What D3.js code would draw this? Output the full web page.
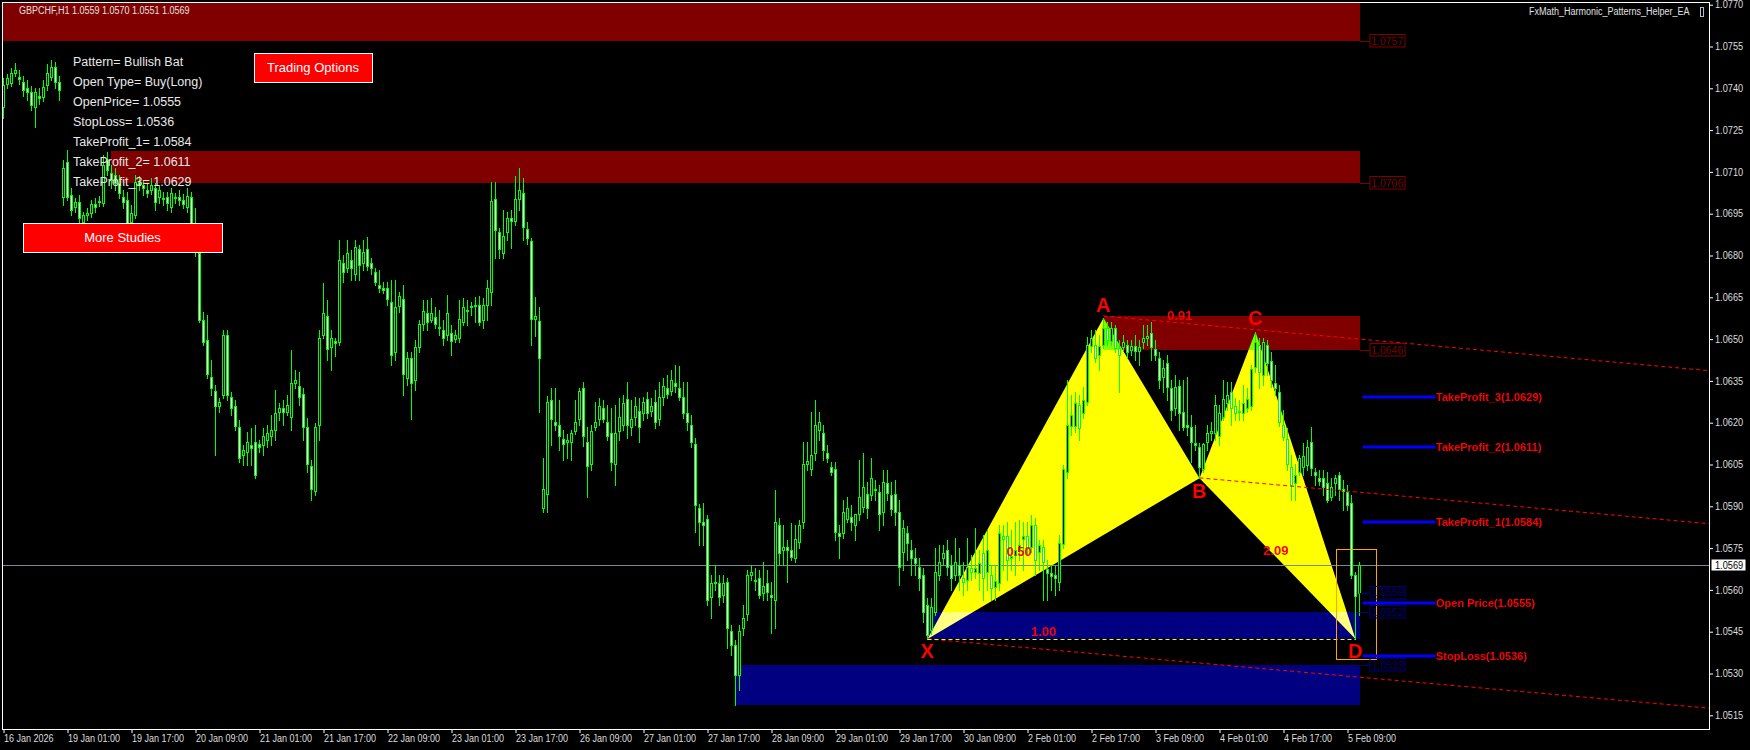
<!DOCTYPE html>
<html><head><meta charset="utf-8">
<script src="https://cdn.jsdelivr.net/npm/d3@7/dist/d3.min.js"></script>
<style>
html,body{margin:0;padding:0;background:#000;overflow:hidden}
svg{display:block}
text{font-family:"Liberation Sans",Arial,sans-serif}
</style></head><body>
<svg id="chart" width="1750" height="750"></svg>
<script>
// ---------------- DATA ----------------
const symbol = "GBPCHF,H1";
const openP = [
1.07333,1.07416,1.07419,1.07455,1.07441,1.07423,1.07401,1.07387,1.07333,1.07372,1.07369,1.07412,1.07441,1.07477,1.07423,
1.07010,1.07136,1.07017,1.06974,1.06992,1.06920,1.06945,1.06952,1.06985,1.06992,1.06988,1.07143,1.07096,1.07089,1.07060,
1.07010,1.06999,1.06920,1.06945,1.07064,1.07053,1.07035,1.07035,1.07042,1.07010,1.07006,1.07010,1.06974,1.07010,1.07010,
1.06999,1.06974,1.07010,1.06916,1.06809,1.06569,1.06497,1.06364,1.06313,1.06260,1.06299,1.06515,1.06292,1.06260,1.06185,
1.06084,1.06095,1.06120,1.06131,1.06124,1.06120,1.06138,1.06152,1.06174,1.06239,1.06253,1.06239,1.06221,1.06342,1.06331,
1.06303,1.06185,1.06044,1.05954,1.06192,1.06515,1.06582,1.06472,1.06493,1.06490,1.06773,1.06755,1.06784,1.06734,1.06824,
1.06773,1.06824,1.06773,1.06741,1.06694,1.06683,1.06683,1.06633,1.06454,1.06618,1.06644,1.06360,1.06432,1.06353,1.06472,
1.06555,1.06593,1.06569,1.06579,1.06544,1.06533,1.06515,1.06522,1.06501,1.06504,1.06562,1.06604,1.06615,1.06618,1.06622,
1.06569,1.06622,1.06669,1.07003,1.06885,1.06809,1.06885,1.06934,1.06923,1.07003,1.07024,1.06895,1.06852,1.06572,1.06565,
1.05894,1.05944,1.06282,1.06203,1.06192,1.06142,1.06131,1.06131,1.06170,1.06214,1.06324,1.06131,1.06052,1.06185,1.06214,
1.06253,1.06203,1.06163,1.06052,1.06170,1.06192,1.06285,1.06185,1.06221,1.06242,1.06235,1.06285,1.06242,1.06275,1.06214,
1.06292,1.06324,1.06313,1.06342,1.06324,1.06292,1.06235,1.06192,1.06124,1.05894,1.05844,1.05855,1.05575,1.05625,1.05625,
1.05582,1.05629,1.05452,1.05402,1.05294,1.05463,1.05514,1.05653,1.05632,1.05642,1.05589,1.05625,1.05582,1.05564,1.05833,
1.05743,1.05754,1.05743,1.05714,1.05772,1.05844,1.06052,1.06034,1.06091,1.06174,1.06163,1.06091,1.06041,1.06034,1.05804,
1.05804,1.05855,1.05862,1.05833,1.05873,1.05898,1.05944,1.05940,1.05962,1.05951,1.05880,1.05983,1.05940,1.05944,1.05880,
1.05736,1.05804,1.05743,1.05714,1.05682,1.05653,1.05546,1.05456,1.05521,1.05653,1.05714,1.05743,1.05689,1.05653,1.05689,
1.05642,1.05636,1.05678,1.05664,1.05660,1.05732,1.05664,1.05653,1.05611,1.05625,1.05793,1.05793,1.05714,1.05725,1.05743,
1.05783,1.05793,1.05754,1.05833,1.05736,1.05754,1.05675,1.05660,1.05653,1.05629,1.05765,1.06023,1.06188,1.06188,1.06264,
1.06235,1.06275,1.06475,1.06479,1.06443,1.06479,1.06540,1.06493,1.06540,1.06468,1.06472,1.06479,1.06461,1.06475,1.06457,
1.06490,1.06504,1.06522,1.06465,1.06432,1.06364,1.06414,1.06324,1.06253,1.06331,1.06239,1.06192,1.06185,1.06127,1.06113,
1.06034,1.06131,1.06163,1.06163,1.06152,1.06221,1.06271,1.06310,1.06260,1.06239,1.06235,1.06253,1.06260,1.06400,1.06479,
1.06371,1.06479,1.06421,1.06342,1.06310,1.06192,1.06142,1.06041,1.05983,1.06023,1.06041,1.06048,1.06131,1.06023,1.06001,
1.06001,1.05983,1.05933,1.05983,1.06012,1.05962,1.05951,1.05912,1.05653,1.0559];
const highP = [
1.07437,1.07452,1.07473,1.07491,1.07466,1.07444,1.07430,1.07408,1.07401,1.07401,1.07430,1.07488,1.07502,1.07495,1.07444,
1.07143,1.07179,1.07042,1.07006,1.07017,1.06956,1.06970,1.06999,1.07006,1.07013,1.07161,1.07172,1.07125,1.07114,1.07089,
1.07035,1.07028,1.06981,1.07089,1.07085,1.07071,1.07060,1.07078,1.07060,1.07049,1.07028,1.07028,1.07042,1.07024,1.07035,
1.07021,1.07042,1.07028,1.06970,1.06827,1.06597,1.06586,1.06425,1.06335,1.06288,1.06533,1.06533,1.06310,1.06282,1.06210,
1.06120,1.06167,1.06181,1.06192,1.06138,1.06181,1.06192,1.06228,1.06317,1.06271,1.06282,1.06299,1.06461,1.06389,1.06382,
1.06324,1.06217,1.06066,1.06199,1.06533,1.06701,1.06640,1.06533,1.06504,1.06856,1.06802,1.06856,1.06820,1.06856,1.06838,
1.06856,1.06867,1.06791,1.06755,1.06748,1.06705,1.06705,1.06712,1.06712,1.06669,1.06694,1.06454,1.06454,1.06497,1.06569,
1.06640,1.06640,1.06647,1.06615,1.06604,1.06569,1.06658,1.06551,1.06533,1.06640,1.06647,1.06640,1.06633,1.06651,1.06654,
1.06647,1.06712,1.07064,1.07064,1.06898,1.06963,1.06956,1.06963,1.07085,1.07114,1.07078,1.06920,1.06863,1.06651,1.06615,
1.06073,1.06295,1.06324,1.06324,1.06282,1.06174,1.06160,1.06174,1.06282,1.06324,1.06346,1.06185,1.06192,1.06275,1.06288,
1.06282,1.06264,1.06253,1.06264,1.06288,1.06299,1.06346,1.06282,1.06292,1.06288,1.06292,1.06310,1.06288,1.06317,1.06346,
1.06360,1.06371,1.06389,1.06407,1.06403,1.06346,1.06346,1.06228,1.06145,1.05909,1.05912,1.05869,1.05653,1.05689,1.05653,
1.05653,1.05642,1.05474,1.05420,1.05474,1.05546,1.05671,1.05689,1.05678,1.05671,1.05700,1.05671,1.05629,1.05958,1.05858,
1.05833,1.05779,1.05840,1.05833,1.05851,1.06131,1.06131,1.06239,1.06282,1.06239,1.06192,1.06120,1.06059,1.06059,1.05833,
1.05923,1.05933,1.05905,1.05858,1.06066,1.06091,1.05987,1.06073,1.05994,1.05976,1.06030,1.06030,1.05987,1.05994,1.05923,
1.05851,1.05829,1.05779,1.05750,1.05714,1.05678,1.05571,1.05571,1.05750,1.05761,1.05761,1.05779,1.05725,1.05786,1.05750,
1.05700,1.05786,1.05725,1.05822,1.05743,1.05797,1.05815,1.05689,1.05689,1.05833,1.05833,1.05844,1.05815,1.05844,1.05851,
1.05844,1.05844,1.05869,1.05858,1.05779,1.05779,1.05707,1.05689,1.05689,1.05797,1.06048,1.06353,1.06299,1.06310,1.06299,
1.06328,1.06508,1.06533,1.06533,1.06515,1.06576,1.06562,1.06562,1.06551,1.06497,1.06515,1.06497,1.06497,1.06515,1.06497,
1.06551,1.06551,1.06562,1.06497,1.06454,1.06425,1.06443,1.06353,1.06371,1.06353,1.06353,1.06364,1.06228,1.06192,1.06127,
1.06127,1.06192,1.06203,1.06299,1.06264,1.06353,1.06346,1.06346,1.06288,1.06282,1.06335,1.06324,1.06407,1.06526,1.06504,
1.06504,1.06497,1.06454,1.06407,1.06335,1.06246,1.06181,1.06084,1.06052,1.06084,1.06127,1.06138,1.06185,1.06037,1.06030,
1.06030,1.06023,1.06001,1.06012,1.06023,1.05994,1.05976,1.05940,1.05665,1.0570];
const lowP = [
1.07293,1.07401,1.07408,1.07444,1.07416,1.07372,1.07358,1.07322,1.07261,1.07344,1.07354,1.07394,1.07430,1.07401,1.07358,
1.06981,1.06999,1.06945,1.06956,1.06909,1.06898,1.06927,1.06938,1.06956,1.06977,1.06977,1.07089,1.07042,1.07035,1.07006,
1.06970,1.06898,1.06905,1.06934,1.07035,1.07017,1.07010,1.07021,1.06963,1.06988,1.06981,1.06963,1.06956,1.06988,1.06981,
1.06970,1.06956,1.06905,1.06798,1.06562,1.06479,1.06360,1.06299,1.06084,1.06239,1.06288,1.06282,1.06228,1.06174,1.06059,
1.06048,1.06048,1.06048,1.06001,1.06095,1.06084,1.06113,1.06120,1.06138,1.06210,1.06192,1.06228,1.06174,1.06324,1.06264,
1.06138,1.06023,1.05923,1.05940,1.06138,1.06504,1.06425,1.06389,1.06439,1.06479,1.06705,1.06741,1.06712,1.06712,1.06712,
1.06748,1.06748,1.06734,1.06694,1.06669,1.06665,1.06622,1.06407,1.06425,1.06597,1.06299,1.06335,1.06214,1.06317,1.06454,
1.06533,1.06533,1.06562,1.06540,1.06515,1.06479,1.06497,1.06443,1.06490,1.06490,1.06551,1.06551,1.06586,1.06562,1.06551,
1.06540,1.06569,1.06622,1.06791,1.06791,1.06791,1.06856,1.06827,1.06909,1.06963,1.06856,1.06842,1.06479,1.06511,1.06239,
1.05880,1.05880,1.06120,1.06174,1.06102,1.06066,1.06073,1.06066,1.06160,1.06192,1.06116,1.05933,1.06030,1.06174,1.06192,
1.06203,1.06138,1.06030,1.05976,1.06138,1.06174,1.06145,1.06156,1.06192,1.06131,1.06210,1.06217,1.06224,1.06181,1.06192,
1.06264,1.06288,1.06299,1.06310,1.06282,1.06217,1.06174,1.06113,1.05808,1.05761,1.05761,1.05546,1.05499,1.05600,1.05546,
1.05557,1.05391,1.05366,1.05187,1.05241,1.05438,1.05492,1.05636,1.05600,1.05571,1.05564,1.05564,1.05445,1.05463,1.05689,
1.05689,1.05629,1.05707,1.05700,1.05750,1.05822,1.06030,1.06012,1.06066,1.06138,1.06066,1.06059,1.06012,1.05779,1.05714,
1.05786,1.05844,1.05815,1.05779,1.05851,1.05880,1.05858,1.05923,1.05923,1.05815,1.05833,1.05923,1.05869,1.05833,1.05618,
1.05671,1.05707,1.05653,1.05653,1.05600,1.05485,1.05424,1.05442,1.05510,1.05636,1.05689,1.05653,1.05600,1.05636,1.05600,
1.05582,1.05600,1.05636,1.05642,1.05600,1.05564,1.05600,1.05564,1.05564,1.05600,1.05671,1.05636,1.05671,1.05653,1.05707,
1.05671,1.05725,1.05736,1.05653,1.05671,1.05564,1.05564,1.05600,1.05582,1.05600,1.05750,1.06001,1.06156,1.06167,1.06138,
1.06217,1.06264,1.06454,1.06418,1.06389,1.06468,1.06479,1.06479,1.06454,1.06310,1.06461,1.06432,1.06443,1.06425,1.06407,
1.06468,1.06479,1.06425,1.06425,1.06324,1.06310,1.06282,1.06210,1.06228,1.06174,1.06174,1.06156,1.06059,1.06102,1.06001,
1.06023,1.06102,1.06138,1.06138,1.06120,1.06210,1.06246,1.06192,1.06210,1.06210,1.06210,1.06239,1.06246,1.06382,1.06324,
1.06335,1.06371,1.06328,1.06299,1.06188,1.06138,1.06030,1.05923,1.05923,1.06012,1.06012,1.06030,1.06012,1.05976,1.05976,
1.05940,1.05916,1.05923,1.05940,1.05923,1.05887,1.05887,1.05642,1.05424,1.0551];
const closeP = [
1.07412,1.07437,1.07455,1.07466,1.07434,1.07394,1.07387,1.07340,1.07387,1.07365,1.07405,1.07455,1.07477,1.07423,1.07394,
1.07114,1.07010,1.06963,1.06992,1.06934,1.06945,1.06952,1.06985,1.06974,1.06995,1.07125,1.07107,1.07071,1.07060,1.07024,
1.06992,1.06916,1.06952,1.07064,1.07053,1.07042,1.07024,1.07053,1.06992,1.07035,1.07003,1.06988,1.07024,1.07006,1.06999,
1.06985,1.07013,1.06916,1.06813,1.06569,1.06490,1.06375,1.06324,1.06260,1.06275,1.06515,1.06299,1.06253,1.06188,1.06073,
1.06102,1.06131,1.06109,1.06012,1.06113,1.06152,1.06163,1.06174,1.06235,1.06253,1.06239,1.06264,1.06342,1.06353,1.06292,
1.06185,1.06052,1.05962,1.06185,1.06504,1.06593,1.06465,1.06504,1.06486,1.06784,1.06741,1.06809,1.06755,1.06831,1.06766,
1.06813,1.06762,1.06755,1.06705,1.06683,1.06676,1.06644,1.06443,1.06615,1.06654,1.06375,1.06432,1.06342,1.06472,1.06555,
1.06600,1.06562,1.06593,1.06555,1.06540,1.06504,1.06593,1.06493,1.06515,1.06572,1.06615,1.06600,1.06618,1.06622,1.06562,
1.06622,1.06683,1.06995,1.06892,1.06824,1.06870,1.06934,1.06923,1.07003,1.07035,1.06902,1.06863,1.06572,1.06582,1.06432,
1.05962,1.06275,1.06214,1.06192,1.06152,1.06124,1.06138,1.06163,1.06203,1.06313,1.06152,1.06044,1.06170,1.06203,1.06260,
1.06214,1.06152,1.06059,1.06163,1.06221,1.06271,1.06192,1.06214,1.06260,1.06185,1.06275,1.06235,1.06260,1.06203,1.06292,
1.06331,1.06303,1.06353,1.06331,1.06292,1.06235,1.06203,1.06131,1.05905,1.05844,1.05833,1.05564,1.05625,1.05629,1.05575,
1.05625,1.05463,1.05402,1.05294,1.05452,1.05499,1.05653,1.05664,1.05636,1.05582,1.05614,1.05593,1.05575,1.05844,1.05732,
1.05754,1.05743,1.05718,1.05783,1.05833,1.06052,1.06062,1.06084,1.06192,1.06203,1.06102,1.06073,1.06023,1.05808,1.05793,
1.05880,1.05894,1.05844,1.05873,1.05933,1.05969,1.05894,1.06001,1.05958,1.05873,1.05987,1.05947,1.05891,1.05880,1.05682,
1.05822,1.05768,1.05714,1.05696,1.05642,1.05521,1.05438,1.05539,1.05664,1.05700,1.05732,1.05682,1.05642,1.05700,1.05653,
1.05629,1.05682,1.05664,1.05678,1.05696,1.05642,1.05743,1.05607,1.05632,1.05804,1.05783,1.05707,1.05721,1.05743,1.05761,
1.05793,1.05750,1.05833,1.05707,1.05761,1.05700,1.05660,1.05649,1.05642,1.05768,1.06034,1.06192,1.06228,1.06271,1.06181,
1.06282,1.06479,1.06504,1.06432,1.06475,1.06540,1.06497,1.06540,1.06468,1.06443,1.06490,1.06454,1.06475,1.06457,1.06472,
1.06504,1.06511,1.06472,1.06443,1.06353,1.06396,1.06328,1.06246,1.06328,1.06235,1.06185,1.06185,1.06131,1.06120,1.06041,
1.06124,1.06163,1.06170,1.06264,1.06235,1.06285,1.06299,1.06253,1.06235,1.06241,1.06271,1.06285,1.06393,1.06490,1.06382,
1.06490,1.06414,1.06353,1.06324,1.06203,1.06149,1.06052,1.05976,1.06012,1.06073,1.06080,1.06113,1.06037,1.06012,1.05990,
1.05969,1.05923,1.05969,1.06001,1.05962,1.05955,1.05905,1.05653,1.05578,1.0569];

// time axis (bar index of each label, H1 bars)
const timeTickBars = [0,16,32,48,64,80,96,112,128,144,160,176,192,208,224,240,256,272,288,304,320,336];
const timeLabels = ["16 Jan 2026","19 Jan 01:00","19 Jan 17:00","20 Jan 09:00","21 Jan 01:00","21 Jan 17:00",
  "22 Jan 09:00","23 Jan 01:00","23 Jan 17:00","26 Jan 09:00","27 Jan 01:00","27 Jan 17:00","28 Jan 09:00",
  "29 Jan 01:00","29 Jan 17:00","30 Jan 09:00","2 Feb 01:00","2 Feb 17:00","3 Feb 09:00","4 Feb 01:00",
  "4 Feb 17:00","5 Feb 09:00"];
const priceTicks = [1.0515,1.0530,1.0545,1.0560,1.0575,1.0590,1.0605,1.0620,1.0635,1.0650,1.0665,1.0680,
  1.0695,1.0710,1.0725,1.0740,1.0755,1.0770];
const currentPrice = 1.0569;

// supply / demand zones
const zoneKind  = ["supply","supply","supply","demand","demand"];
const zoneFrom  = [-10,27,275,231,183];
const zoneTo    = [339,339,339,339,339];
const zoneHigh  = [1.0790,1.07175,1.06583,1.0552,1.0533];
const zoneLow   = [1.0757,1.0706,1.0646,1.05424,1.05187];
// price tags at right of zones
const tagKind   = ["supply","supply","supply","demand","demand","demand"];
const tagPrice  = [1.0757,1.0706,1.0646,1.0559,1.0552,1.0533];

// harmonic pattern points
const patNames  = ["X","A","B","C","D"];
const patBars   = [231,275,299,313,338];
const patPrices = [1.05424,1.06576,1.06001,1.06526,1.05424];
const ratioText  = ["0.50","0.91","2.09","1.00"];
const ratioBar   = [253.9,294.1,318.1,260.1];
const ratioPrice = [1.05740,1.06587,1.05743,1.05453];

// channel rays (start point -> far point)
const rayFromBar = [275,299,231];
const rayFromPrice = [1.06583,1.06002,1.05424];
const rayToBar = [430,430,430];
const rayToPrice = [1.06382,1.05833,1.05171];

// PRZ box
const przBars = [333,343];
const przPrices = [1.05746,1.05351];

// trade levels
const levelNames = ["TakeProfit_3","TakeProfit_2","TakeProfit_1","Open Price","StopLoss"];
const levelPrices = [1.0629,1.0611,1.0584,1.0555,1.0536];
const levelBars = [340,358];

const infoLines = ["Pattern= Bullish Bat","Open Type= Buy(Long)","OpenPrice= 1.0555","StopLoss= 1.0536",
  "TakeProfit_1= 1.0584","TakeProfit_2= 1.0611","TakeProfit_3= 1.0629"];
const buttons = ["Trading Options","More Studies"];
const eaName = "FxMath_Harmonic_Patterns_Helper_EA";

// ---------------- DRAW ----------------
const W = 1750, H = 750;
const P = {l:2, t:2, r:1709, b:729};
const n = closeP.length;
const x = d3.scaleLinear().domain([0, 339]).range([3.5, 1359.5]);
const y = d3.scaleLinear().domain([1.0515, 1.0770]).range([715.3, 4.7]);
const fmt4 = d3.format(".4f");
const kindColor = {supply:"#800000", demand:"#000080"};
const GREEN = "#00ff00", RED = "#ff0000";

const svg = d3.select("#chart");
svg.append("rect").attr("width", W).attr("height", H).attr("fill", "#000");
svg.append("defs").append("clipPath").attr("id", "pc")
  .append("rect").attr("x", P.l + 1).attr("y", P.t + 1).attr("width", P.r - P.l - 1).attr("height", P.b - P.t - 1);

const plot = svg.append("g").attr("clip-path", "url(#pc)");
const bg = plot.append("g");

// zones
bg.selectAll("rect.zone").data(d3.range(zoneKind.length)).join("rect")
  .attr("x", i => Math.round(x(zoneFrom[i])))
  .attr("width", i => Math.round(x(zoneTo[i])) - Math.round(x(zoneFrom[i])))
  .attr("y", i => Math.round(y(zoneHigh[i])))
  .attr("height", i => Math.round(y(zoneLow[i])) - Math.round(y(zoneHigh[i])))
  .attr("fill", i => kindColor[zoneKind[i]])
  .attr("shape-rendering", "crispEdges");

// pattern triangles (XOR-like blend)
const pt = i => [x(patBars[i]), y(patPrices[i])];
[[0,1,2],[2,3,4]].forEach(tri => {
  bg.append("path")
    .attr("d", "M" + tri.map(i => pt(i).join(",")).join("L") + "Z")
    .attr("fill", "#ffff00")
    .style("mix-blend-mode", "difference");
});

// current price line
plot.append("line")
  .attr("x1", P.l).attr("x2", P.r)
  .attr("y1", Math.round(y(currentPrice)) + 0.5).attr("y2", Math.round(y(currentPrice)) + 0.5)
  .attr("stroke", "#778899").attr("stroke-width", 1);

// candles
const cg = plot.append("g").attr("shape-rendering", "crispEdges");
const idx = d3.range(n);
cg.selectAll("line.wick").data(idx).join("line")
  .attr("x1", i => x(i)).attr("x2", i => x(i))
  .attr("y1", i => Math.round(y(highP[i])))
  .attr("y2", i => Math.round(y(lowP[i])) + 1)
  .attr("stroke", GREEN).attr("stroke-width", 1);
const bt = i => Math.round(y(Math.max(openP[i], closeP[i])));
const bb = i => Math.round(y(Math.min(openP[i], closeP[i])));
cg.selectAll("rect.body").data(idx).join("rect")
  .attr("x", i => x(i) - 1.5).attr("width", 3)
  .attr("y", i => bt(i)).attr("height", i => Math.max(1, bb(i) - bt(i) + 1))
  .attr("fill", GREEN);
cg.selectAll("rect.inner").data(idx.filter(i => bb(i) - bt(i) >= 2)).join("rect")
  .attr("x", i => x(i) - 0.5).attr("width", 1)
  .attr("y", i => bt(i) + 1).attr("height", i => bb(i) - bt(i) - 1)
  .attr("fill", i => closeP[i] < openP[i] ? "#ffffff" : "#000000");

// rays
plot.selectAll("line.ray").data(d3.range(rayFromBar.length)).join("line")
  .attr("x1", i => x(rayFromBar[i])).attr("y1", i => y(rayFromPrice[i]))
  .attr("x2", i => x(rayToBar[i])).attr("y2", i => y(rayToPrice[i]))
  .attr("stroke", RED).attr("stroke-width", 1).attr("stroke-dasharray", "4,3");

// X-D line
plot.append("line")
  .attr("x1", x(patBars[0])).attr("x2", x(patBars[4]))
  .attr("y1", Math.round(y(patPrices[0])) + 0.5).attr("y2", Math.round(y(patPrices[4])) + 0.5)
  .attr("stroke", "#ffff00").attr("stroke-dasharray", "4,3");

// PRZ box
plot.append("rect")
  .attr("x", Math.round(x(przBars[0])) + 0.5).attr("y", Math.round(y(przPrices[0])) + 0.5)
  .attr("width", Math.round(x(przBars[1]) - x(przBars[0])))
  .attr("height", Math.round(y(przPrices[1]) - y(przPrices[0])))
  .attr("fill", "none").attr("stroke", "#ffa500").attr("stroke-width", 1);

// price tags
const tagX = x(339) + 10.5;
const tags = plot.selectAll("g.tag").data(d3.range(tagPrice.length)).join("g");
tags.append("line")
  .attr("x1", x(339)).attr("x2", tagX)
  .attr("y1", i => Math.round(y(tagPrice[i])) + 0.5).attr("y2", i => Math.round(y(tagPrice[i])) + 0.5)
  .attr("stroke", i => kindColor[tagKind[i]]);
tags.append("rect")
  .attr("x", tagX).attr("y", i => Math.round(y(tagPrice[i])) - 6.5)
  .attr("width", 35).attr("height", 12.5)
  .attr("fill", "none").attr("stroke", i => kindColor[tagKind[i]]);
tags.append("text")
  .attr("x", tagX + 17.5).attr("y", i => y(tagPrice[i])).attr("dy", "0.36em")
  .attr("text-anchor", "middle").attr("font-size", 10.5)
  .attr("fill", i => kindColor[tagKind[i]])
  .text(i => fmt4(tagPrice[i]));

// trade levels (drawn slightly above the exact pixel, as the terminal does)
const lvY = i => Math.round(y(levelPrices[i])) - 1.5;
const lv = plot.selectAll("g.lv").data(d3.range(levelNames.length)).join("g");
lv.append("line")
  .attr("x1", x(levelBars[0]) - 1).attr("x2", x(levelBars[1]))
  .attr("y1", i => lvY(i) + 0.5).attr("y2", i => lvY(i) + 0.5)
  .attr("stroke", "#0000ff").attr("stroke-width", 3);
lv.append("text")
  .attr("x", x(levelBars[1]) + 0.5).attr("y", i => lvY(i) + 0.5).attr("dy", "0.36em")
  .attr("font-size", 11).attr("font-weight", "bold").attr("fill", RED)
  .text(i => `${levelNames[i]}(${fmt4(levelPrices[i])})`);

// ratio labels
plot.selectAll("text.ratio").data(d3.range(ratioText.length)).join("text")
  .attr("x", i => x(ratioBar[i])).attr("y", i => y(ratioPrice[i])).attr("dy", "0.36em")
  .attr("text-anchor", "middle").attr("font-size", 13).attr("font-weight", "bold").attr("fill", RED)
  .text(i => ratioText[i]);

// point letters
const letterOff = [12, -13.5, 12.5, -14.5, 12];
plot.selectAll("text.pt").data(d3.range(patNames.length)).join("text")
  .attr("x", i => x(patBars[i])).attr("y", i => y(patPrices[i]) + letterOff[i]).attr("dy", "0.36em")
  .attr("text-anchor", "middle").attr("font-size", 20).attr("font-weight", "bold").attr("fill", RED)
  .text(i => patNames[i]);

// info panel
const info = svg.append("g");
info.selectAll("text").data(infoLines).join("text")
  .attr("x", 73).attr("y", (d, i) => 61.7 + i * 20).attr("dy", "0.36em")
  .attr("font-size", 12.5).attr("fill", "#e8e8e8").text(d => d);

// buttons
const btnBox = [[254, 53, 118, 29], [23, 223, 199, 29]];
buttons.forEach((label, i) => {
  const [bx, by, bw, bh] = btnBox[i];
  svg.append("rect").attr("x", bx + 0.5).attr("y", by + 0.5).attr("width", bw).attr("height", bh)
    .attr("fill", "#ff0000").attr("stroke", "#ffffff").attr("stroke-width", 1);
  svg.append("text").attr("x", bx + bw / 2).attr("y", by + bh / 2).attr("dy", "0.36em")
    .attr("text-anchor", "middle").attr("font-size", 13).attr("fill", "#ffffff").text(label);
});

// frame
const fr = svg.append("g").attr("stroke", "#ffffff").attr("stroke-width", 1).attr("shape-rendering", "crispEdges");
fr.append("line").attr("x1", P.l).attr("x2", P.r + 1).attr("y1", P.t + 0.5).attr("y2", P.t + 0.5);
fr.append("line").attr("x1", P.l).attr("x2", P.r + 1).attr("y1", P.b + 0.5).attr("y2", P.b + 0.5);
fr.append("line").attr("x1", P.l + 0.5).attr("x2", P.l + 0.5).attr("y1", P.t).attr("y2", P.b + 1);
fr.append("line").attr("x1", P.r + 0.5).attr("x2", P.r + 0.5).attr("y1", P.t).attr("y2", P.b + 1);

function squeeze(sel, k) {
  sel.each(function () {
    const L = this.getComputedTextLength();
    d3.select(this).attr("textLength", L * k).attr("lengthAdjust", "spacingAndGlyphs");
  });
}

// y axis
const ya = svg.append("g").attr("transform", `translate(${P.r},0)`)
  .call(d3.axisRight(y).tickValues(priceTicks).tickSize(4).tickPadding(2).tickFormat(fmt4));
ya.select(".domain").remove();
ya.selectAll("line").attr("stroke", "#ffffff");
ya.selectAll("text").attr("fill", "#dddddd").attr("font-size", 10).attr("font-family", "Liberation Sans, Arial");
squeeze(ya.selectAll("text"), 0.92);

// x axis
const xa = svg.append("g").attr("transform", `translate(0,${P.b})`)
  .call(d3.axisBottom(x).tickValues(timeTickBars).tickSize(4).tickPadding(2)
    .tickFormat((d, i) => timeLabels[i]));
xa.select(".domain").remove();
xa.selectAll("line").attr("stroke", "#ffffff");
xa.selectAll("text").attr("fill", "#dddddd").attr("font-size", 10).attr("text-anchor", "start")
  .attr("font-family", "Liberation Sans, Arial");
squeeze(xa.selectAll("text"), 0.9);

// current price tag
const cpy = Math.round(y(currentPrice));
svg.append("rect").attr("x", 1711.5).attr("y", cpy - 5.5).attr("width", 34).attr("height", 11)
  .attr("fill", "#ffffff");
const cpt = svg.append("text").attr("x", 1715).attr("y", cpy + 0.5).attr("dy", "0.36em")
  .attr("font-size", 10).attr("fill", "#000000").text(fmt4(currentPrice));
squeeze(cpt, 0.92);

// header texts
const last = n - 1;
const hdr = svg.append("text").attr("x", 19).attr("y", 10.7).attr("dy", "0.36em")
  .attr("font-size", 10).attr("fill", "#e0e0e0")
  .text(`${symbol}  ${fmt4(openP[last])} ${fmt4(highP[last])} ${fmt4(lowP[last])} ${fmt4(closeP[last])}`);
squeeze(hdr, 0.9);
const ea = svg.append("text").attr("x", 1529).attr("y", 11.7).attr("dy", "0.36em")
  .attr("font-size", 10).attr("fill", "#e0e0e0").text(eaName);
squeeze(ea, 0.9);
svg.append("rect").attr("x", 1700.5).attr("y", 7.5).attr("width", 3).attr("height", 9)
  .attr("fill", "none").attr("stroke", "#a8c0d0");
</script>
</body></html>
